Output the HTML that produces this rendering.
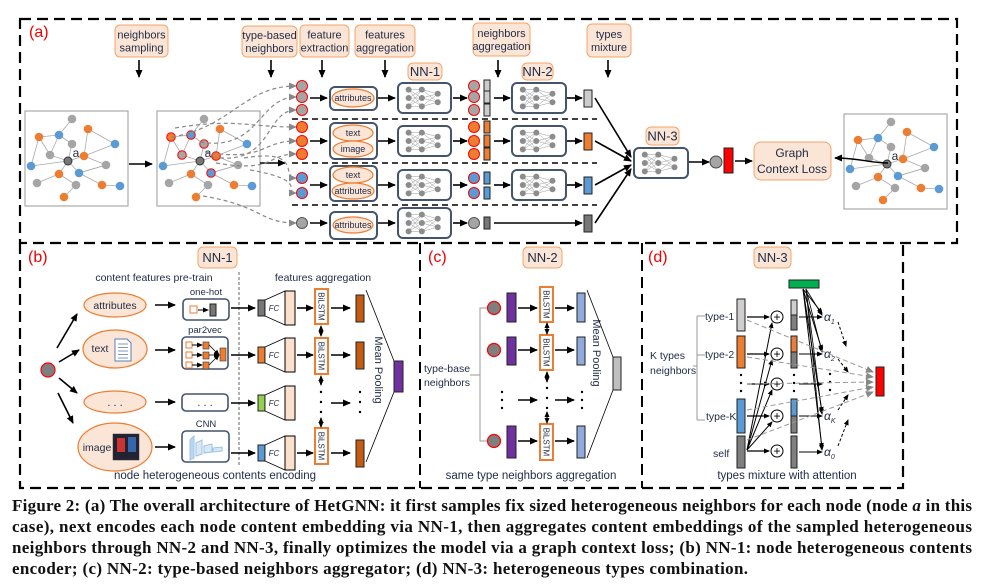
<!DOCTYPE html>
<html><head><meta charset="utf-8">
<style>
html,body{margin:0;padding:0;background:#fff;width:994px;height:585px;overflow:hidden}
svg{display:block}
text{font-family:"Liberation Sans",sans-serif}
</style></head>
<body>
<svg id="s" width="994" height="585" viewBox="0 0 994 585" xmlns="http://www.w3.org/2000/svg">
<defs>
<marker id="ah" markerWidth="8" markerHeight="8" refX="7" refY="4" orient="auto" markerUnits="userSpaceOnUse"><path d="M0,0.5 L8,4 L0,7.5 z" fill="#000"/></marker>
<marker id="ahs" markerWidth="6" markerHeight="6" refX="5" refY="3" orient="auto" markerUnits="userSpaceOnUse"><path d="M0,0.5 L6,3 L0,5.5 z" fill="#000"/></marker>
<marker id="ahg" markerWidth="8" markerHeight="8" refX="7" refY="4" orient="auto" markerUnits="userSpaceOnUse"><path d="M0,0.5 L8,4 L0,7.5 z" fill="#888"/></marker>
<marker id="ahb" markerWidth="6" markerHeight="6" refX="5" refY="3" orient="auto-start-reverse" markerUnits="userSpaceOnUse"><path d="M0,0.5 L6,3 L0,5.5 z" fill="#000"/></marker>
</defs>
<g id="g"></g>
<g font-weight="bold" font-size="17" fill="#111">
<text x="12" y="511" textLength="960" lengthAdjust="spacing" style="font-family:'Liberation Serif',serif">Figure 2: (a) The overall architecture of HetGNN: it first samples fix sized heterogeneous neighbors for each node (node <tspan font-style="italic">a</tspan> in this</text>
<text x="12" y="532" textLength="960" lengthAdjust="spacing" style="font-family:'Liberation Serif',serif">case), next encodes each node content embedding via NN-1, then aggregates content embeddings of the sampled heterogeneous</text>
<text x="12" y="553" textLength="960" lengthAdjust="spacing" style="font-family:'Liberation Serif',serif">neighbors through NN-2 and NN-3, finally optimizes the model via a graph context loss; (b) NN-1: node heterogeneous contents</text>
<text x="12" y="574" textLength="736" lengthAdjust="spacing" style="font-family:'Liberation Serif',serif">encoder; (c) NN-2: type-based neighbors aggregator; (d) NN-3: heterogeneous types combination.</text>
</g>
</svg>
<script>
var G=document.getElementById('g'),h='';
function a(s){h+=s;}
var OR='#ed7d31',BL='#5b9bd5',GR='#a5a5a5',DK='#44546a',PE='#fbe5d6',POS='#f4a46a';
function line(x1,y1,x2,y2,o){o=o||{};a('<line x1="'+x1+'" y1="'+y1+'" x2="'+x2+'" y2="'+y2+'" stroke="'+(o.c||'#000')+'" stroke-width="'+(o.w||1.6)+'"'+(o.d?' stroke-dasharray="'+o.d+'"':'')+(o.m?' marker-end="url(#'+o.m+')"':'')+(o.ms?' marker-start="url(#'+o.ms+')"':'')+'/>');}
function arr(x1,y1,x2,y2,o){o=o||{};o.m=o.m||'ah';line(x1,y1,x2,y2,o);}
function rect(x,y,w,hh,f,s,sw,rx){a('<rect x="'+x+'" y="'+y+'" width="'+w+'" height="'+hh+'" fill="'+f+'" stroke="'+(s||'#000')+'" stroke-width="'+(sw||1)+'" rx="'+(rx||0)+'"/>');}
function txt(x,y,t,o){o=o||{};a('<text x="'+x+'" y="'+y+'" font-size="'+(o.s||11)+'" fill="'+(o.c||'#1f2a44')+'" text-anchor="'+(o.an||'middle')+'"'+(o.st?' font-style="'+o.st+'"':'')+(o.tr?' transform="'+o.tr+'"':'')+'>'+t+'</text>');}
function circ(x,y,r,f,s,sw){a('<circle cx="'+x+'" cy="'+y+'" r="'+r+'" fill="'+f+'" stroke="'+(s||'none')+'" stroke-width="'+(sw||1)+'"/>');}
function lbl(x,y,w,hh,ls,fs){rect(x,y,w,hh,PE,POS,1,5);var n=ls.length;fs=fs||11;for(var i=0;i<n;i++)txt(x+w/2,y+hh/2+(i-(n-1)/2)*13+fs*0.36,ls[i],{s:fs});}
function net(x,y,w,hh){rect(x,y,w,hh,'#fff',DK,2,5);var cols=[[x+w*0.2,3],[x+w*0.45,3],[x+w*0.75,2]];var pts=[];cols.forEach(function(c){var p=[];for(var i=0;i<c[1];i++){var yy=c[1]==3?y+hh*(0.22+0.28*i):y+hh*(0.36+0.28*i);p.push([c[0],yy]);}pts.push(p);});for(var l=0;l<2;l++)pts[l].forEach(function(p){pts[l+1].forEach(function(q){line(p[0],p[1],q[0],q[1],{c:'#999',w:0.5});});});pts.forEach(function(p){p.forEach(function(q){circ(q[0],q[1],3,'#8c8c8c');});});}
function ell(cx,cy,rx,ry,t,fs){a('<ellipse cx="'+cx+'" cy="'+cy+'" rx="'+rx+'" ry="'+ry+'" fill="'+PE+'" stroke="'+OR+'" stroke-width="1.2"/>');if(t)txt(cx,cy+(fs||10)*0.36,t,{s:fs||10});}
var GN=[[72,119,GR],[39,137,OR],[59,135,BL],[72,144,GR],[88,129,OR],[115,144,BL],[50,155,GR],[68,161,'#777'],[84,156,OR],[31,166,BL],[59,174,OR],[79,173,BL],[106,165,GR],[37,183,GR],[76,185,GR],[102,185,OR],[120,186,BL],[64,197,OR]];
var GE=[[0,2],[1,2],[1,9],[2,6],[1,6],[6,7],[3,7],[2,3],[4,8],[4,5],[8,7],[8,12],[8,5],[7,9],[7,10],[7,11],[10,13],[11,12],[10,14],[14,17],[11,15],[15,16],[12,11]];
function graph(ox,oy,bx,by,red){rect(bx,by,103,95,'#fff','#aaa',1.2);GE.forEach(function(e){var p=GN[e[0]],q=GN[e[1]];line(p[0]+ox,p[1]+oy,q[0]+ox,q[1]+oy,{c:'#aaa',w:0.8});});GN.forEach(function(n,i){circ(n[0]+ox,n[1]+oy,i==7?4:4.3,n[2],(red&&red.indexOf(i)>=0)?'#f00':(i==7?'#333':'none'),1);});txt(GN[7][0]+ox+8,GN[7][1]+oy-4,'a',{s:12,c:'#1f2a44'});}

a('<rect x="20" y="19" width="937" height="224" fill="none" stroke="#000" stroke-width="2.2" stroke-dasharray="11,6"/>');
txt(29,37,'(a)',{s:16,c:'#e00',an:'start'});
lbl(115,25,53,32,['neighbors','sampling'],11);
lbl(242,26,55,31,['type-based','neighbors'],11);
lbl(300,25,49,32,['feature','extraction'],11);
lbl(355,25,60,32,['features','aggregation'],11);
lbl(473,23,57,33,['neighbors','aggregation'],11);
lbl(587,24,44,33,['types','mixture'],11);
[139,271,322,385,498,608].forEach(function(x){arr(x,60,x,77);});
lbl(408,63,34,17,['NN-1'],13);lbl(522,63,31,17,['NN-2'],13);lbl(646,127,33,18,['NN-3'],13);
graph(0,0,25,111);
arr(129,164,152,164);
graph(132,0,157,111,[1,2,3,6,8,11]);
arr(260,163,285,163);
graph(819,3,844,114);
var cv=[[172,137,296,86],[200,142,296,97],[213,157,296,110],[175,128,296,127],[205,152,296,141],[216,163,296,154],[244,158,296,178],[250,170,296,193],[203,196,296,223]];
cv.forEach(function(c,i){var mx=(c[0]+c[2])/2;a('<path d="M'+c[0]+','+c[1]+' C'+(c[0]+60)+','+(c[1]+(i%3==0?-10:10))+' '+(mx+10)+','+c[3]+' '+c[2]+','+c[3]+'" fill="none" stroke="#888" stroke-width="1.2" stroke-dasharray="4,3" marker-end="url(#ahg)"/>');});
[119,163,205].forEach(function(y){line(292,y,597,y,{w:1.6,d:'6,4'});});
var rows=[{c:GR,ys:[86,97,110],cy:98,box:[87,23]},{c:OR,ys:[127,141,154],cy:141,box:[123,36]},{c:BL,ys:[178,193],cy:185,box:[166,35]},{c:GR,ys:[223],cy:223,box:[212,27]}];
rows.forEach(function(r,i){r.ys.forEach(function(y){circ(302,y,5.5,r.c,i==3?'#555':'#f00',1);});
 arr(310,r.cy,327,r.cy);
 rect(330,r.box[0],47,r.box[1],'#fff',DK,2,5);
 arr(378,r.cy,395,r.cy);
 net(398,r.cy-15,53,30);
 arr(453,r.cy,467,r.cy);
 var bc=i==3?'#777':(i==0?'#ccc':r.c);
 r.ys.forEach(function(y){circ(474,y,5.5,r.c,i==3?'#555':'#f00',1);rect(484,y-6,6,12,bc,'#222',1);});
 if(i<3){arr(494,r.cy,510,r.cy);net(512,r.cy-15,54,30);arr(567,r.cy,582,r.cy);}
 else arr(494,223,582,223);
 var bcol=['#ccc',OR,BL,'#777'][i];
 rect(584,r.cy-8,8,17,bcol,'#222',1);
 arr(595,r.cy,631,163-(1.5-i)*4);
});
ell(353,98,21,9,'attributes',9);
ell(353,133,20,8,'text',9);ell(353,149,20,8,'image',9);
ell(353,175,20,8,'text',9);ell(353,191,21,8,'attributes',9);
ell(353,225,20,8,'attributes',9);
net(634,148,54,30);
arr(689,162,709,162);
circ(716,162,6,GR,'#444',1);
rect(724,148,9,25,'#f00','#222',1);
arr(735,161,752,161);
rect(754,142,77,38,PE,POS,1,7);
txt(792,157,'Graph',{s:12});txt(792,173,'Context Loss',{s:12});
a('<path d="M888,163 C870,163 860,158 835,158" fill="none" stroke="#000" stroke-width="1.4" marker-end="url(#ah)"/>');

a('<path d="M20,243 L20,488 L903,488 L903,243" fill="none" stroke="#000" stroke-width="2.2" stroke-dasharray="11,6"/>');
line(420,243,420,488,{w:2,d:'11,6'});line(642,243,642,488,{w:2,d:'11,6'});
txt(28,262,'(b)',{s:16,c:'#e00',an:'start'});
lbl(198,247,39,21,['NN-1'],13);
txt(154,281,'content features pre-train',{s:10.5});
txt(323,281,'features aggregation',{s:10.5});
line(239,272,239,465,{c:'#666',w:1,d:'3,2'});
circ(48,370,7,'#7f7f7f','#f00',1.2);
arr(57,348,77,314);arr(59,362,79,350);arr(59,378,77,393);arr(58,393,73,423);
ell(115,305,31,12,'attributes',10.5);
ell(115,349,32,19,'');txt(100,352,'text',{s:10.5});
a('<path d="M115,339 h12 l4,4 v18 h-16z" fill="#fff" stroke="#5b7fb5" stroke-width="1"/>');for(var k=0;k<5;k++)line(118,344+k*3.5,128,344+k*3.5,{c:'#5b7fb5',w:0.8});
ell(115,402,31,11,'. . .',11);
ell(115,447,37,24,'');txt(97,451,'image',{s:10.5});
rect(113,434,26,26,'#223','#333',0.5);rect(117,438,8,14,'#c33','none');rect(128,437,8,15,'#36a','none');
[305,350,402,447].forEach(function(y){arr(155,y,175,y);});
rect(183,299,46,21,'#fff',DK,1.6,4);txt(206,295,'one-hot',{s:9.5});
rect(190,306,7,7,'#fff',OR,1);arr(198,310,208,310,{m:'ahs',w:1});rect(210,304,6,12,'#777','#222',1);
rect(182,337,46,32,'#fff',DK,1.6,4);txt(205,333,'par2vec',{s:9.5});
[343,351,359].forEach(function(y,i){rect(186,y+2*i-1,6,6,'#fff',OR,1);arr(192,y+2*i+2,202,y+2*i+2,{m:'ahs',w:1});rect(203,y+2*i-1,6,7,OR,'#333',0.6);arr(209,y+2*i+2,219,355,{m:'ahs',w:0.8});});
rect(220,348,6,13,OR,'#333',0.6);
rect(182,394,46,17,'#fff',DK,1.6,4);txt(205,406,'. . .',{s:11});
rect(182,431,47,31,'#fff',DK,1.6,4);txt(206,427,'CNN',{s:9.5});
a('<polygon points="190,440 194,436 194,458 190,460" fill="#bdd7ee" stroke="#9dc3e6"/><polygon points="196,443 202,440 202,454 196,456" fill="#dae8f5" stroke="#9dc3e6"/><polygon points="204,446 212,444 212,452 204,453" fill="#dae8f5" stroke="#9dc3e6"/><polygon points="213,448 222,447 222,451 213,452" fill="#dae8f5" stroke="#9dc3e6"/>');
var fr=[[308,'#777'],[355,OR],[403,'#92d050'],[453,BL]];
fr.forEach(function(f){arr(231,f[0],255,f[0]);rect(258,f[0]-8,7,16,f[1],'#222',1);a('<polygon points="265,'+(f[0]-8)+' 285,'+(f[0]-17)+' 285,'+(f[0]+17)+' 265,'+(f[0]+8)+'" fill="#fff" stroke="#000" stroke-width="0.8"/>');txt(274,f[0]+3,'FC',{s:8,st:'italic'});rect(285,f[0]-17,10,34,'#fbe0cc','#000',1);});
[[289,324,308],[338,374,355],[428,464,453]].forEach(function(b){arr(297,b[2],313,b[2]);rect(315,b[0],13,b[1]-b[0],'#fff',OR,2);txt(321.5,(b[0]+b[1])/2,'BiLSTM',{s:8,tr:'rotate(90 321.5 '+((b[0]+b[1])/2)+') translate(0,3)'});arr(331,b[2],350,b[2]);rect(356,b[2]-13,8,27,'#c55a11','#222',1);});
line(321,326,321,336,{w:1.2,m:'ahb',ms:'ahb'});line(321,376,321,385,{w:1.2,m:'ahb',ms:'ahb'});line(321,418,321,427,{w:1.2,m:'ahb',ms:'ahb'});
[392,402,412].forEach(function(y){circ(321,y,1.2,'#000');circ(360,y,1.2,'#000');});
arr(331,403,350,403);
txt(378,370,'Mean Pooling',{s:11,tr:'rotate(90 378 370) translate(0,3)'});
line(366,290,394,361,{w:0.8});line(366,462,394,392,{w:0.8});
rect(394,361,9,31,'#7030a0','#222',1);
txt(215,479,'node heterogeneous contents encoding',{s:11.5});

txt(428,262,'(c)',{s:16,c:'#e00',an:'start'});
lbl(523,247,39,21,['NN-2'],13);
txt(447,372,'type-base',{s:10.5});txt(447,386,'neighbors',{s:10.5});
a('<path d="M488,308 H480 V441 H488 M470,375 H480" fill="none" stroke="#999" stroke-width="1"/>');
[[308,293,322,287,322],[350,337,365,335,370],[441,426,458,424,460]].forEach(function(r){circ(494,r[0],6.5,'#7f7f7f','#f00',1.2);rect(507,r[1],9,r[2]-r[1],'#7030a0','#222',1);arr(518,r[0],537,r[0]);rect(540,r[3],13,r[4]-r[3],'#fff',OR,2);var cy=(r[3]+r[4])/2;txt(546.5,cy,'BiLSTM',{s:8,tr:'rotate(90 546.5 '+cy+') translate(0,3)'});arr(555,r[0],574,r[0]);rect(577,r[1],8,r[2]-r[1],'#8faadc','#222',1);});
line(547,323,547,334,{w:1.2,m:'ahb',ms:'ahb'});line(547,372,547,382,{w:1.2,m:'ahb',ms:'ahb'});line(547,412,547,423,{w:1.2,m:'ahb',ms:'ahb'});
[388,398,408].forEach(function(y){circ(547,y,1.2,'#000');});
[392,400,408].forEach(function(y){circ(502,y,1.2,'#000');circ(582,y,1.2,'#000');});
arr(518,400,537,400);arr(555,400,574,400);
txt(596,353,'Mean Pooling',{s:11,tr:'rotate(90 596 353) translate(0,3)'});
line(587,290,613,357,{w:0.8});line(587,458,613,390,{w:0.8});
rect(613,357,8,33,'#bfbfbf','#222',1);
txt(531,479,'same type neighbors aggregation',{s:11.5});

txt(648,262,'(d)',{s:16,c:'#e00',an:'start'});
lbl(754,247,37,21,['NN-3'],13);
rect(789,280,30,8,'#00b050','#222',1);
txt(650,359,'K types',{s:10.5,an:'start'});txt(650,374,'neighbors',{s:10.5,an:'start'});
a('<path d="M693,366 H697 M697,316 V420 M697,316 H705 M697,355 H705 M697,420 H705" fill="none" stroke="#999" stroke-width="1"/>');
txt(705,320,'type-1',{s:10.5,an:'start'});txt(705,358,'type-2',{s:10.5,an:'start'});txt(706,420,'type-K',{s:10.5,an:'start'});txt(713,457,'self',{s:10.5,an:'start'});
var D=[[299,331,'#d0cece',317],[336,368,OR,354],[399,433,BL,416],[436,468,'#7f7f7f',451]];
D.forEach(function(d){rect(737,d[0],8,d[1]-d[0],d[2],'#222',1);});
[384,392,400].forEach(function(y){circ(741,y-9,1.2,'#000');circ(794,y-9,1.2,'#000');circ(830,y-10,1.2,'#000');});
var P=[317,354,384,416,451];
P.forEach(function(y){circ(777,y,6,'#fff','#000',1);txt(777,y+4,'+',{s:12,c:'#000'});});
[317,354,384,416,451].forEach(function(y){arr(747,y,769,y,{w:1.2,m:'ahs'});});
[317,354,384,416].forEach(function(y){arr(747,450,772,y+6,{w:1,m:'ahs'});});
var C=[[300,330,'#d0cece'],[336,368,OR],[399,433,BL],[436,468,'#7f7f7f']];
C.forEach(function(c,i){var m=(c[0]+c[1])/2;if(i<3){rect(791,c[0],6,m-c[0],c[2],'#222',1);rect(791,m,6,c[1]-m,'#7f7f7f','#222',1);}else rect(791,c[0],6,c[1]-c[0],'#7f7f7f','#222',1);});
[[317,'α<tspan font-size="7" dy="3">1</tspan>'],[354,'α<tspan font-size="7" dy="3">2</tspan>'],[416,'α<tspan font-size="7" dy="3">K</tspan>'],[452,'α<tspan font-size="7" dy="3">0</tspan>']].forEach(function(t){arr(799,t[0],822,t[0],{w:1,m:'ahs'});txt(824,t[0]+4,t[1],{s:12,an:'start',st:'italic'});arr(803,289,822,t[0]-4,{w:1,m:'ahs'});arr(806,289,822,t[0]-2,{w:0.8,m:'ahs'});});
arr(799,384,822,384,{w:1,m:'ahs'});
line(838,322,846,346,{w:1,d:'3,2',m:'ahs'});line(838,359,848,372,{w:1,d:'3,2',m:'ahs'});line(838,410,848,395,{w:1,d:'3,2',m:'ahs'});line(838,446,848,420,{w:1,d:'3,2',m:'ahs'});
[[747,320],[747,357],[747,384],[747,410],[747,440]].forEach(function(p,i){line(p[0],p[1],873,372+i*5,{c:'#999',w:1,d:'5,3',m:'ahg'});});
rect(876,367,8,29,'#f00','#222',1);
txt(787,479,'types mixture with attention',{s:11.5});
G.innerHTML=h;
</script>
</body></html>
